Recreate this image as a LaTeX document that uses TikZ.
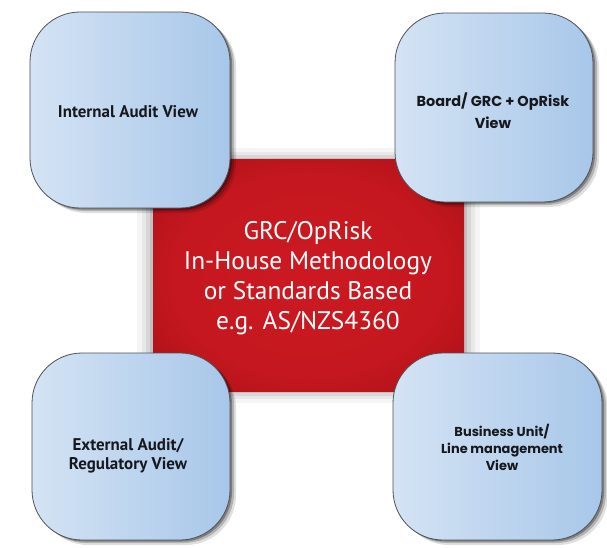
\documentclass[tikz,border=0pt]{standalone}
\usepackage{fontspec}
\setmainfont{PT Sans}
\newfontfamily\geofont{Poppins}
\usetikzlibrary{shadows}
\pgfdeclareradialshading{redglow}{\pgfpoint{0bp}{0bp}}{rgb(0bp)=(0.80,0.10,0.13); rgb(22bp)=(0.77,0.09,0.12); rgb(40bp)=(0.62,0.05,0.08); rgb(50bp)=(0.54,0.04,0.06); rgb(70bp)=(0.50,0.03,0.05)}
\definecolor{bluel}{RGB}{212,227,244}
\definecolor{bluer}{RGB}{168,199,233}
\definecolor{boxedge}{RGB}{80,82,88}
\definecolor{labtext}{RGB}{22,24,30}
\begin{document}
\begin{tikzpicture}[x=1bp,y=-1bp,
  redbox/.style={rectangle, shading=redglow, inner sep=0pt,
    minimum width=311bp, minimum height=231bp,
    general shadow={shadow scale=1.10, fill=black, opacity=0.04},
    general shadow={shadow scale=1.07, fill=black, opacity=0.05},
    general shadow={shadow scale=1.045, fill=black, opacity=0.07},
    general shadow={shadow scale=1.02, fill=black, opacity=0.10}},
  bluebox/.style={rectangle, draw=boxedge, line width=0.8bp, rounded corners=50bp,
    left color=bluel, right color=bluer, inner sep=0pt,
    drop shadow={shadow xshift=6bp, shadow yshift=-5bp, fill=black, opacity=0.12},
    drop shadow={shadow xshift=4bp, shadow yshift=-3bp, fill=black, opacity=0.20},
    drop shadow={shadow xshift=2bp, shadow yshift=-1.5bp, fill=black, opacity=0.30}},
  redtext/.style={text=white, align=center, font=\fontsize{25.5}{30}\selectfont, inner sep=0pt},
  labA/.style={text=labtext, align=center, font=\fontsize{17}{19}\selectfont\bfseries, inner sep=0pt},
  labB/.style={text=labtext, align=center, inner sep=0pt}
]
\useasboundingbox (0,0) rectangle (607,548);
\fill[white] (0,0) rectangle (607,548);
% centre
\node[redbox] (core) at (308.5,275.5) {};
\node[redtext] (coret) at (308,278) {GRC/OpRisk\\In-House Methodology\\or Standards Based\\e.g. AS/NZS4360};
% views
\node[bluebox, minimum width=200bp, minimum height=196bp] (ia) at (130,110) {};
\node[bluebox, minimum width=198bp, minimum height=189bp] (bd) at (494,107.5) {};
\node[bluebox, minimum width=198bp, minimum height=187bp] (ea) at (131,446.5) {};
\node[bluebox, minimum width=209bp, minimum height=187bp] (bu) at (497.5,446.5) {};
\node[labA] (iat) at (128,112) {Internal Audit View};
\node[labB, font=\geofont\fontsize{14.5}{22}\selectfont\bfseries] (bdt) at (493,111) {Board/ GRC + OpRisk\\View};
\node[labA] (eat) at (128,456) {External Audit/\\Regulatory View};
\node[labB, font=\geofont\fontsize{13}{17}\selectfont\bfseries] (but) at (502,447) {Business Unit/\\Line management\\View};
\end{tikzpicture}
\end{document}
